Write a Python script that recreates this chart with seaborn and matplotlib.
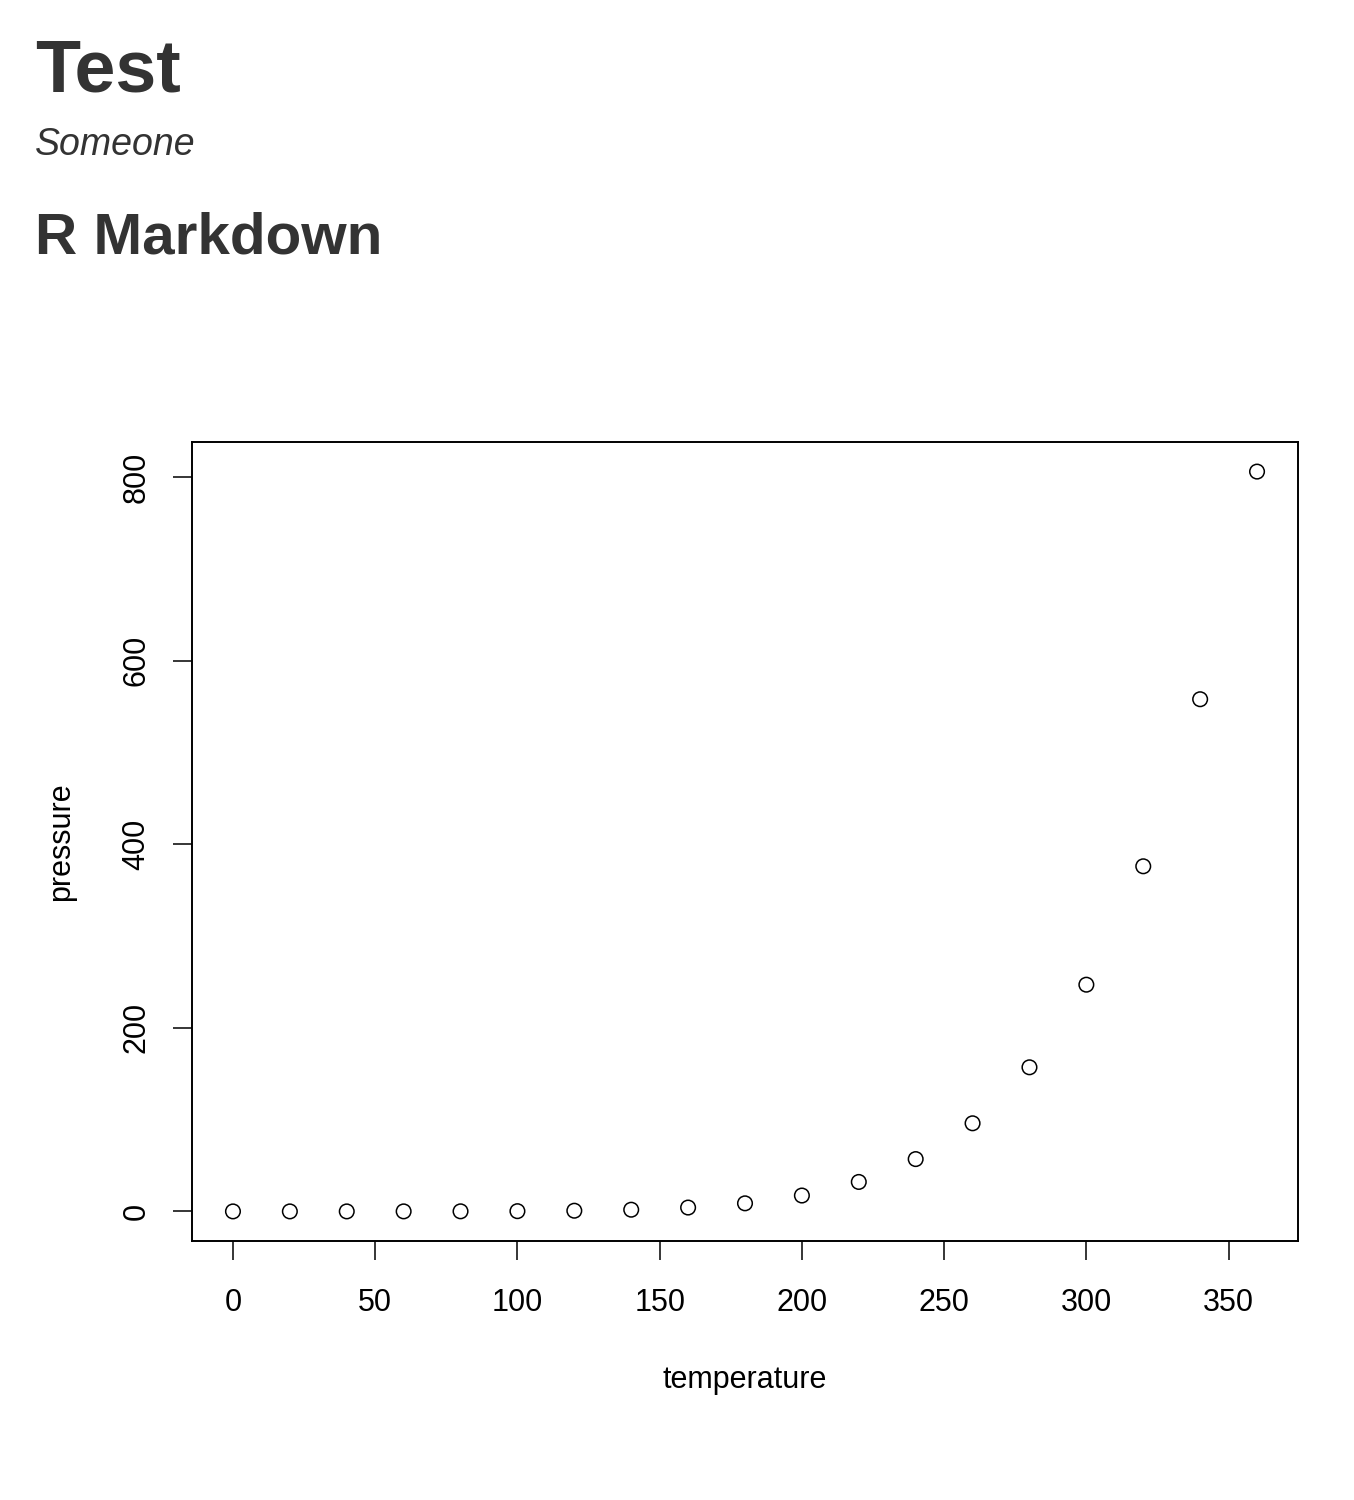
import pandas as pd
import matplotlib.pyplot as plt
import seaborn as sns

# R's built-in "pressure" dataset
temperature = [0, 20, 40, 60, 80, 100, 120, 140, 160, 180,
               200, 220, 240, 260, 280, 300, 320, 340, 360]
pressure = [0.0002, 0.0012, 0.006, 0.03, 0.09, 0.27, 0.75, 1.85, 4.2, 8.8,
            17.3, 32.1, 57.0, 96.0, 157.0, 247.0, 376.0, 558.0, 806.0]
x_ticks = [0, 50, 100, 150, 200, 250, 300, 350]
y_ticks = [0, 200, 400, 600, 800]

df = pd.DataFrame({'temperature': temperature, 'pressure': pressure})

sns.set_style('ticks')
plt.rcParams['font.family'] = ['Liberation Sans', 'DejaVu Sans']

fig = plt.figure(figsize=(13.54, 15), dpi=100)
ax = fig.add_axes([192 / 1354, 1 - 1241 / 1500, 1106 / 1354, 799 / 1500])

sns.scatterplot(data=df, x='temperature', y='pressure', ax=ax,
                marker='o', s=110, facecolor='none', edgecolor='black',
                linewidth=1.1)

# R-style 4% padding
ax.set_xlim(-14.4, 374.4)
ax.set_ylim(0.0002 - 32.24, 806 + 32.24)
ax.set_xticks(x_ticks)
ax.set_yticks(y_ticks)
ax.tick_params(axis='both', length=14, width=1.1, color='black',
               labelsize=22, labelcolor='black')
ax.tick_params(axis='x', pad=20)
ax.tick_params(axis='y', pad=15)
for lab in ax.get_yticklabels():
    lab.set_rotation(90)
    lab.set_va('center')
for sp in ax.spines.values():
    sp.set_visible(True)
    sp.set_linewidth(1.4)
    sp.set_color('black')

ax.set_xlabel('temperature', fontsize=22, color='black')
ax.set_ylabel('pressure', fontsize=22, color='black')
ax.xaxis.set_label_coords(0.5, (1241 - 1380) / 799)
ax.xaxis.label.set_va('center')
ax.yaxis.set_label_coords((61 - 192) / 1106, 0.5)
ax.yaxis.label.set_va('center')

fig.text(35 / 1354, 1 - 91 / 1500, 'Test', fontsize=53, fontweight='bold',
         color='#333333', va='baseline', ha='left')
fig.text(35 / 1354, 1 - 155 / 1500, 'Someone', fontsize=27, style='italic',
         color='#333333', va='baseline', ha='left')
fig.text(35 / 1354, 1 - 254 / 1500, 'R Markdown', fontsize=42,
         fontweight='bold', color='#333333', va='baseline', ha='left')

plt.savefig('out.png', dpi=100)
